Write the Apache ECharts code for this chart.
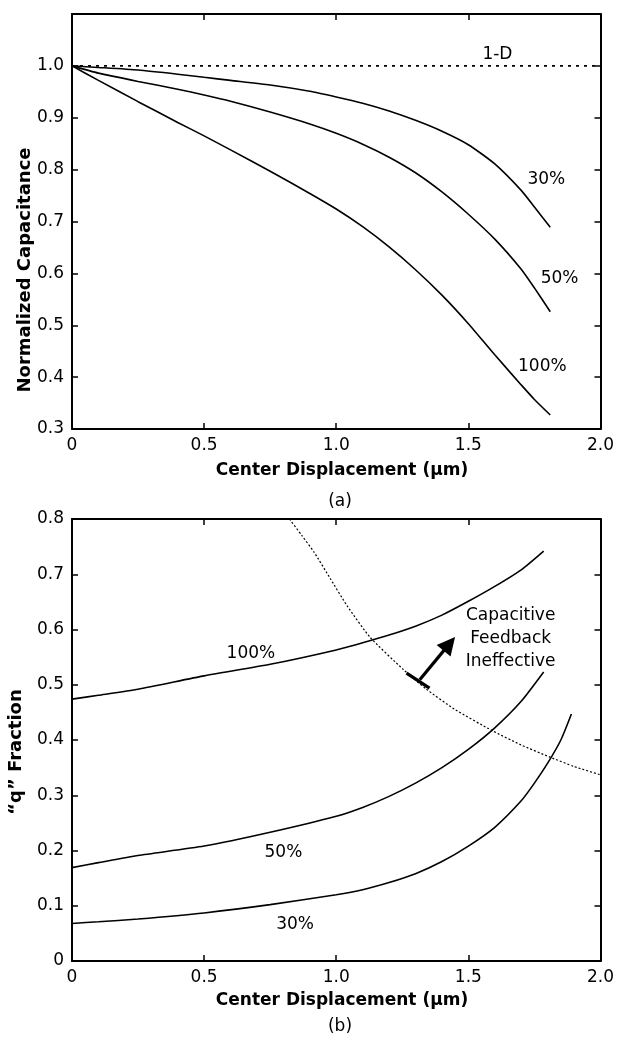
<!DOCTYPE html>
<html>
<head>
<meta charset="utf-8">
<script src="https://cdn.jsdelivr.net/npm/echarts@6/dist/echarts.min.js"></script>
<style>
  html, body { margin: 0; padding: 0; background: #fff; }
  #chart { width: 617px; height: 1040px; }
</style>
</head>
<body>
<div id="chart"></div>
<script>
// ---- Panel (a): normalized capacitance vs. center displacement ----
const xA = [0, 0.1, 0.25, 0.4, 0.5, 0.6, 0.75, 0.9, 1.0, 1.1, 1.2, 1.3, 1.4, 1.5, 1.6, 1.7, 1.75, 1.81];
const capA30  = [1.0, 0.997, 0.992, 0.984, 0.978, 0.972, 0.963, 0.951, 0.940, 0.928, 0.913, 0.895, 0.874, 0.848, 0.811, 0.760, 0.728, 0.689];
const capA50  = [1.0, 0.986, 0.970, 0.955, 0.944, 0.932, 0.911, 0.888, 0.870, 0.849, 0.824, 0.794, 0.757, 0.714, 0.666, 0.608, 0.572, 0.526];
const capA100 = [1.0, 0.972, 0.931, 0.891, 0.865, 0.838, 0.797, 0.754, 0.724, 0.690, 0.651, 0.607, 0.558, 0.503, 0.443, 0.385, 0.357, 0.327];
const oneD = [[0, 1.0], [2.0, 1.0]];

// ---- Panel (b): "q" fraction vs. center displacement ----
const xB = [0, 0.1, 0.25, 0.5, 0.75, 1.0, 1.1, 1.2, 1.3, 1.4, 1.5, 1.6, 1.7, 1.785];
const qB100 = [0.474, 0.481, 0.492, 0.516, 0.537, 0.563, 0.576, 0.590, 0.606, 0.626, 0.651, 0.678, 0.708, 0.742];
const qB50  = [0.169, 0.178, 0.191, 0.208, 0.233, 0.262, 0.278, 0.298, 0.322, 0.350, 0.383, 0.422, 0.470, 0.523];
const xB30  = [0, 0.1, 0.25, 0.5, 0.75, 1.0, 1.1, 1.2, 1.3, 1.4, 1.5, 1.6, 1.7, 1.75, 1.8, 1.85, 1.89];
const qB30  = [0.068, 0.071, 0.076, 0.087, 0.102, 0.120, 0.129, 0.142, 0.158, 0.180, 0.208, 0.242, 0.290, 0.322, 0.358, 0.400, 0.447];
// boundary beyond which capacitive feedback is ineffective
const xLimit = [0.823, 0.87, 0.916, 0.979, 1.041, 1.128, 1.253, 1.341, 1.45, 1.59, 1.7, 1.809, 1.9, 2.0];
const qLimit = [0.8, 0.770, 0.740, 0.691, 0.643, 0.586, 0.528, 0.492, 0.455, 0.417, 0.391, 0.369, 0.352, 0.337];

// axis ticks
const xTicks = [0, 0.5, 1.0, 1.5, 2.0];
const yTicksA = [0.3, 0.4, 0.5, 0.6, 0.7, 0.8, 0.9, 1.0];
const yTicksB = [0, 0.1, 0.2, 0.3, 0.4, 0.5, 0.6, 0.7, 0.8];

// text annotations anchored in data units
const notesA = [
  { name: '1-D',  value: [1.61, 1.022] },
  { name: '30%',  value: [1.795, 0.781] },
  { name: '50%',  value: [1.845, 0.59] },
  { name: '100%', value: [1.78, 0.421] }
];
const notesB = [
  { name: '100%', value: [0.677, 0.556] },
  { name: '50%',  value: [0.80, 0.197] },
  { name: '30%',  value: [0.844, 0.066] },
  { name: 'Capacitive\nFeedback\nIneffective', value: [1.66, 0.583] }
];
const arrowShaft = [[1.316, 0.509], [1.428, 0.574]];
const arrowBase  = [[1.266, 0.521], [1.353, 0.494]];

const zip = (xs, ys) => xs.map((x, i) => [x, ys[i]]);

const FONT = '"DejaVu Sans", Verdana, sans-serif';
const INK = '#000';

function xAxisDef(gridIndex, position) {
  const bottom = position === 'bottom';
  return {
    type: 'value', gridIndex, position,
    min: xTicks[0], max: xTicks[xTicks.length - 1], interval: xTicks[1] - xTicks[0],
    axisLine: { show: true, onZero: false, lineStyle: { color: INK, width: 2 } },
    axisTick: { show: true, inside: true, length: 6, lineStyle: { color: INK, width: 1.5 } },
    splitLine: { show: false },
    axisLabel: {
      show: bottom, margin: 8, color: INK, fontFamily: FONT, fontSize: 17,
      formatter: v => (Math.abs(v) < 1e-9 ? '0' : v.toFixed(1))
    }
  };
}

function yAxisDef(gridIndex, position, min, max, labelMax) {
  const left = position === 'left';
  return {
    type: 'value', gridIndex, position, min, max, interval: 0.1,
    axisLine: { show: true, onZero: false, lineStyle: { color: INK, width: 2 } },
    axisTick: { show: true, inside: true, length: 6, lineStyle: { color: INK, width: 1.5 } },
    splitLine: { show: false },
    axisLabel: {
      show: left, margin: 8, color: INK, fontFamily: FONT, fontSize: 17,
      formatter: v => (v > labelMax + 1e-6 ? '' : (Math.abs(v) < 1e-9 ? '0' : v.toFixed(1)))
    }
  };
}

function curve(data, xi, yi) {
  return {
    type: 'line', xAxisIndex: xi, yAxisIndex: yi, data, showSymbol: false,
    smooth: 0.2, silent: true,
    lineStyle: { color: INK, width: 1.6 }
  };
}

function notes(data, xi, yi) {
  return {
    type: 'scatter', xAxisIndex: xi, yAxisIndex: yi, data, symbolSize: 0, silent: true,
    itemStyle: { opacity: 1, color: INK },
    label: {
      show: true, position: 'inside', formatter: p => p.name,
      color: INK, fontFamily: FONT, fontSize: 17, lineHeight: 23, align: 'center'
    }
  };
}

const chart = echarts.init(document.getElementById('chart'), null, { renderer: 'canvas' });

chart.setOption({
  animation: false,
  backgroundColor: '#fff',
  grid: [
    { left: 72, top: 14, width: 535, height: 415 },
    { left: 72, top: 519, width: 534, height: 442 }
  ],
  xAxis: [
    xAxisDef(0, 'bottom'), xAxisDef(0, 'top'),
    xAxisDef(1, 'bottom'), xAxisDef(1, 'top')
  ],
  yAxis: [
    yAxisDef(0, 'left', yTicksA[0], 1.1, yTicksA[yTicksA.length - 1]),
    yAxisDef(0, 'right', yTicksA[0], 1.1, 0),
    yAxisDef(1, 'left', yTicksB[0], yTicksB[yTicksB.length - 1], yTicksB[yTicksB.length - 1]),
    yAxisDef(1, 'right', yTicksB[0], yTicksB[yTicksB.length - 1], 0)
  ],
  series: [
    // panel (a)
    {
      type: 'line', xAxisIndex: 0, yAxisIndex: 0, data: oneD, showSymbol: false, silent: true,
      lineStyle: { color: INK, width: 1.6, type: [3, 5] }
    },
    curve(zip(xA, capA30), 0, 0),
    curve(zip(xA, capA50), 0, 0),
    curve(zip(xA, capA100), 0, 0),
    notes(notesA, 0, 0),
    // panel (b)
    curve(zip(xB, qB100), 2, 2),
    curve(zip(xB, qB50), 2, 2),
    curve(zip(xB30, qB30), 2, 2),
    {
      type: 'line', xAxisIndex: 2, yAxisIndex: 2, data: zip(xLimit, qLimit), showSymbol: false,
      smooth: 0.2, silent: true,
      lineStyle: { color: INK, width: 1.2, type: [2, 2] }
    },
    {
      type: 'lines', coordinateSystem: 'cartesian2d', xAxisIndex: 2, yAxisIndex: 2, silent: true,
      symbol: ['none', 'triangle'], symbolSize: [13, 18],
      lineStyle: { color: INK, width: 3.2, curveness: 0, opacity: 1 },
      data: [{ coords: arrowShaft }]
    },
    {
      type: 'lines', coordinateSystem: 'cartesian2d', xAxisIndex: 2, yAxisIndex: 2, silent: true,
      symbol: ['none', 'none'],
      lineStyle: { color: INK, width: 3.2, curveness: 0, opacity: 1 },
      data: [{ coords: arrowBase }]
    },
    notes(notesB, 2, 2)
  ],
  graphic: [
    {
      type: 'text', x: 25, y: 270, rotation: Math.PI / 2,
      style: { text: 'Normalized Capacitance', font: 'bold 18px ' + FONT, fill: INK, textAlign: 'center', textVerticalAlign: 'middle' }
    },
    {
      type: 'text', x: 342, y: 471,
      style: { text: 'Center Displacement (\u03bcm)', font: 'bold 17px ' + FONT, fill: INK, textAlign: 'center', textVerticalAlign: 'middle' }
    },
    {
      type: 'text', x: 340, y: 502,
      style: { text: '(a)', font: '17px ' + FONT, fill: INK, textAlign: 'center', textVerticalAlign: 'middle' }
    },
    {
      type: 'text', x: 16, y: 752, rotation: Math.PI / 2,
      style: { text: '\u201Cq\u201D Fraction', font: 'bold 18px ' + FONT, fill: INK, textAlign: 'center', textVerticalAlign: 'middle' }
    },
    {
      type: 'text', x: 342, y: 1001,
      style: { text: 'Center Displacement (\u03bcm)', font: 'bold 17px ' + FONT, fill: INK, textAlign: 'center', textVerticalAlign: 'middle' }
    },
    {
      type: 'text', x: 340, y: 1027,
      style: { text: '(b)', font: '17px ' + FONT, fill: INK, textAlign: 'center', textVerticalAlign: 'middle' }
    }
  ]
});
</script>
</body>
</html>
